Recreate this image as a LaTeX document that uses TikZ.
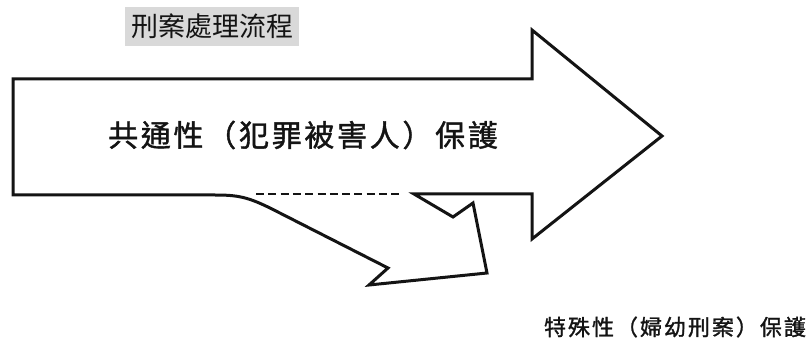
\documentclass[tikz,border=0pt]{standalone}
\usepackage{fontspec}
\newfontfamily\tcfont{Noto Sans CJK TC}
\newfontfamily\tcspaced[LetterSpace=9,FakeBold=1.3]{Noto Sans CJK TC}
\definecolor{titlegray}{RGB}{217,217,217}
\definecolor{inkc}{RGB}{20,20,20}
\begin{document}
\begin{tikzpicture}[x=1pt,y=-1pt,
  outline/.style={draw=inkc,line width=3pt,line join=miter,miter limit=10},
  dashedline/.style={draw=inkc,line width=2pt,dash pattern=on 8pt off 4.3pt},
  titlebox/.style={fill=titlegray,inner sep=0pt,minimum width=174pt,minimum height=39pt,font=\tcfont\fontsize{27}{27}\selectfont,text=inkc},
  mainlabel/.style={inner sep=0pt,font=\tcspaced\fontsize{30}{30}\selectfont,text=inkc},
  sublabel/.style={inner sep=0pt,font=\tcspaced\fontsize{22}{22}\selectfont,text=inkc}]
\useasboundingbox (0,0) rectangle (810,347);
\fill[white] (0,0) rectangle (810,347);
% title
\node[titlebox] (title) at (212,26.5) {刑案處理流程};
% big arrow with branching curved arrow
\coordinate (dashstart) at (256,194);
\coordinate (dashend) at (403,194);
\path[outline]
  (414,194) -- (453,217) -- (473,203) -- (487,273) -- (369,285) -- (388,268)
  -- (272,209) .. controls (248,197) and (238,195) .. (215,195)
  -- (13,195) -- (13,79) -- (532,79) -- (532,30) -- (662,136) -- (532,239)
  -- (532,194) -- cycle;
\draw[dashedline] (dashstart) -- (dashend);
% labels
\node[mainlabel] (common) at (303,135) {共通性（犯罪被害人）保護};
\node[sublabel] (special) at (675,327) {特殊性（婦幼刑案）保護};
\end{tikzpicture}
\end{document}
